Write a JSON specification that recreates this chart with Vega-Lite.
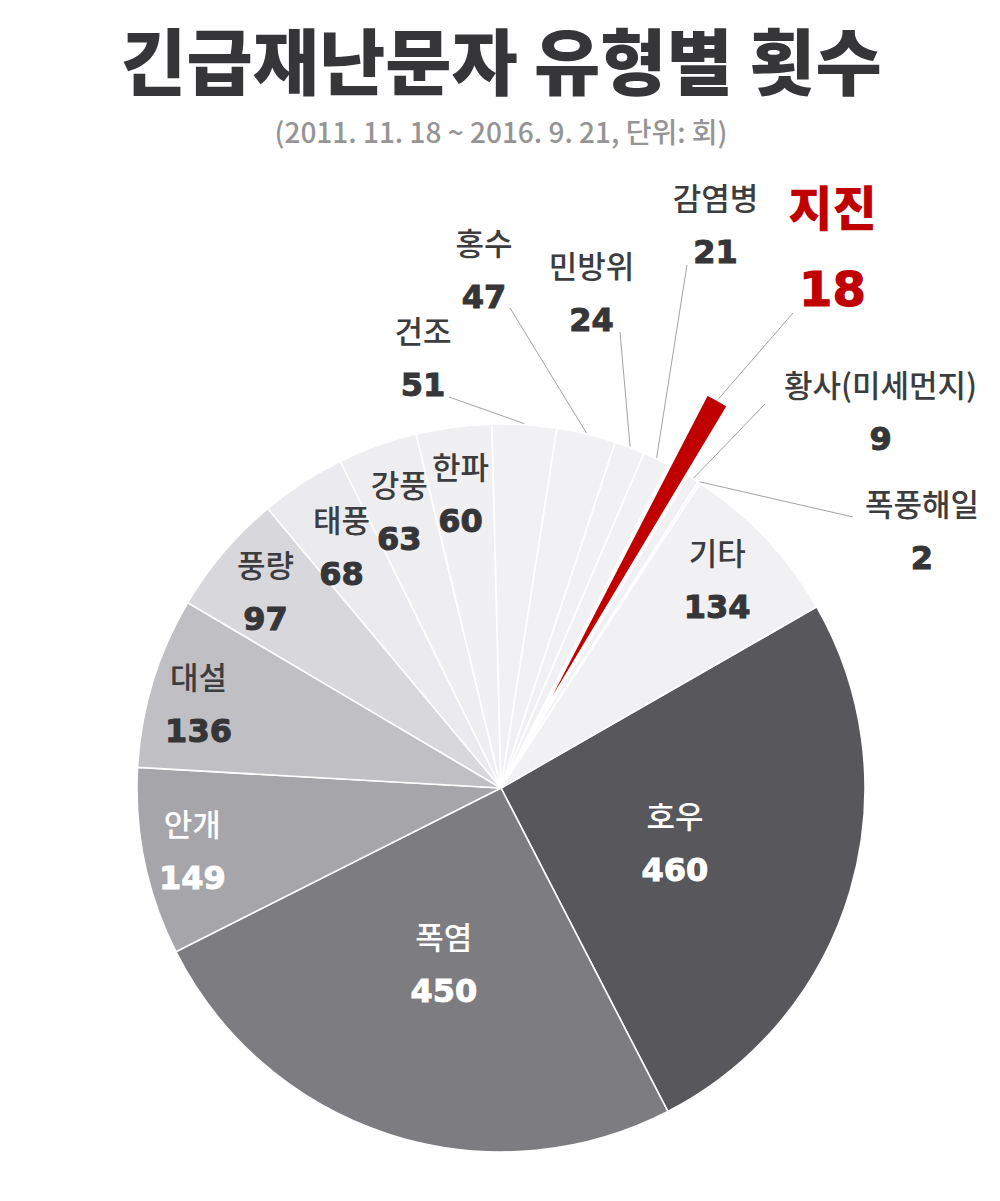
{
  "$schema": "https://vega.github.io/schema/vega-lite/v6.json",
  "width": 998,
  "height": 730,
  "autosize": {"type": "none"},
  "padding": {"left": 2, "top": 423, "right": 0, "bottom": 48},
  "background": "white",
  "config": {"view": {"stroke": null}},
  "title": {
    "text": "긴급재난문자 유형별 횟수",
    "subtitle": "(2011. 11. 18 ~ 2016. 9. 21, 단위: 회)",
    "anchor": "middle",
    "frame": "group",
    "font": "Noto Sans CJK KR",
    "fontSize": 72,
    "fontWeight": 900,
    "color": "#363538",
    "subtitleFont": "Noto Sans CJK KR",
    "subtitleFontSize": 28,
    "subtitleFontWeight": 500,
    "subtitleColor": "#959595",
    "subtitlePadding": 17,
    "offset": 35
  },
  "data": {
    "values": [
      {"type": "호우", "count": 460},
      {"type": "폭염", "count": 450},
      {"type": "안개", "count": 149},
      {"type": "대설", "count": 136},
      {"type": "풍량", "count": 97},
      {"type": "태풍", "count": 68},
      {"type": "강풍", "count": 63},
      {"type": "한파", "count": 60},
      {"type": "건조", "count": 51},
      {"type": "홍수", "count": 47},
      {"type": "민방위", "count": 24},
      {"type": "감염병", "count": 21},
      {"type": "지진", "count": 18},
      {"type": "황사(미세먼지)", "count": 9},
      {"type": "폭풍해일", "count": 2},
      {"type": "기타", "count": 134}
    ]
  },
  "transform": [
    {"window": [{"op": "row_number", "as": "ord"}]},
    {"stack": "count", "groupby": [], "sort": [{"field": "ord", "order": "ascending"}], "as": ["s0", "s1"]},
    {"joinaggregate": [{"op": "sum", "field": "count", "as": "total"}]},
    {"calculate": "1.0498 + PI * (datum.s0 + datum.s1) / datum.total", "as": "a"},
    {"calculate": "[185,185,300,300,300,300,300,300,364,364,364,364,364,364,364,300][datum.ord - 1]", "as": "R"},
    {"calculate": "datum.R * sin(datum.a) + [-3.5,0,-15,-15.5,-7,4,0,-1.5,-101.6,-102.4,-38.2,59.3,154.1,187.3,222.8,-2][datum.ord - 1]", "as": "lx"},
    {"calculate": "datum.R * cos(datum.a) - [4.7,2,4,5.4,0,13,8,5.4,-64.3,-161.7,-152.5,-231.3,-218.1,-64.4,50.3,0][datum.ord - 1]", "as": "ly"},
    {"calculate": "80 * sin(datum.a)", "as": "bx"},
    {"calculate": "80 * cos(datum.a)", "as": "by"}
  ],
  "layer": [
    {
      "transform": [{"filter": "datum.type !== '지진'"}],
      "mark": {"type": "arc", "radius": 364, "stroke": "white", "strokeWidth": 1.6},
      "encoding": {
        "theta": {"field": "s1", "type": "quantitative", "stack": null, "scale": {"range": [1.0498, 7.333], "nice": false, "zero": true}},
        "theta2": {"field": "s0"},
        "color": {
          "field": "type",
          "type": "nominal",
          "scale": {
            "domain": ["호우", "폭염", "안개", "대설", "풍량", "태풍", "강풍", "한파", "건조", "홍수", "민방위", "감염병", "지진", "황사(미세먼지)", "폭풍해일", "기타"],
            "range": ["#58575b", "#7d7c80", "#a6a5a9", "#c0bfc3", "#d8d7db", "#ebeaee", "#eeedf0", "#f0eff2", "#f1f0f3", "#f1f0f3", "#f1f0f3", "#f1f0f3", "#c00000", "#f1f0f3", "#f1f0f3", "#f1f0f3"]
          },
          "legend": null
        }
      }
    },
    {
      "transform": [
        {"filter": "datum.ord >= 9 && datum.ord <= 15"},
        {"calculate": "(datum.type === '지진' ? 444 : 365) * sin(datum.a)", "as": "sx"},
        {"calculate": "(datum.type === '지진' ? 444 : 365) * cos(datum.a)", "as": "sy"},
        {"calculate": "364 * sin(datum.a) + [-75.6,-76.4,-9.7,30.8,114.6,71.8,153.8][datum.ord - 9]", "as": "tx"},
        {"calculate": "364 * cos(datum.a) - [-27.8,-126.2,-115.5,-193.8,-157.1,-74.9,34.3][datum.ord - 9]", "as": "ty"}
      ],
      "mark": {"type": "rule", "color": "#a3a3a3", "strokeWidth": 1},
      "encoding": {
        "x": {"field": "sx", "type": "quantitative", "scale": {"domain": [-499, 499], "nice": false, "zero": false}, "axis": null},
        "y": {"field": "sy", "type": "quantitative", "scale": {"domain": [-365, 365], "nice": false, "zero": false}, "axis": null},
        "x2": {"field": "tx"},
        "y2": {"field": "ty"}
      }
    },
    {
      "transform": [{"filter": "datum.type === '지진'"}],
      "mark": {"type": "arc", "radius": 364, "stroke": "white", "strokeWidth": 1.6, "color": "#c00000"},
      "encoding": {
        "theta": {"field": "s1", "type": "quantitative", "stack": null},
        "theta2": {"field": "s0"},
        "x": {"field": "bx", "type": "quantitative", "axis": null},
        "y": {"field": "by", "type": "quantitative", "axis": null}
      }
    },
    {
      "transform": [{"filter": "datum.type !== '지진'"}],
      "mark": {"type": "text", "font": "Noto Sans CJK KR", "fontSize": 31, "fontWeight": 500, "align": "center", "baseline": "middle", "dy": -26},
      "encoding": {
        "x": {"field": "lx", "type": "quantitative", "axis": null},
        "y": {"field": "ly", "type": "quantitative", "axis": null},
        "text": {"field": "type", "type": "nominal"},
        "color": {"condition": {"test": "indexof(['호우','폭염','안개'], datum.type) >= 0", "value": "#ffffff"}, "value": "#3d3d3f"}
      }
    },
    {
      "transform": [{"filter": "datum.type !== '지진'"}],
      "mark": {"type": "text", "font": "DejaVu Sans", "fontWeight": "bold", "fontSize": 32, "align": "center", "baseline": "middle", "dy": 26, "strokeWidth": 1},
      "encoding": {
        "x": {"field": "lx", "type": "quantitative", "axis": null},
        "y": {"field": "ly", "type": "quantitative", "axis": null},
        "text": {"field": "count", "type": "quantitative", "format": "d"},
        "color": {"condition": {"test": "indexof(['호우','폭염','안개'], datum.type) >= 0", "value": "#ffffff"}, "value": "#363538"},
        "stroke": {"condition": {"test": "indexof(['호우','폭염','안개'], datum.type) >= 0", "value": "#ffffff"}, "value": "#363538"}
      }
    },
    {
      "transform": [{"filter": "datum.type === '지진'"}],
      "mark": {"type": "text", "font": "Noto Sans CJK KR", "fontWeight": 900, "fontSize": 48, "align": "center", "baseline": "middle", "dy": -40, "color": "#c00000"},
      "encoding": {
        "x": {"field": "lx", "type": "quantitative", "axis": null},
        "y": {"field": "ly", "type": "quantitative", "axis": null},
        "text": {"field": "type", "type": "nominal"}
      }
    },
    {
      "transform": [{"filter": "datum.type === '지진'"}],
      "mark": {"type": "text", "font": "DejaVu Sans", "fontWeight": "bold", "fontSize": 48, "align": "center", "baseline": "middle", "dy": 40, "color": "#c00000", "stroke": "#c00000", "strokeWidth": 1.2},
      "encoding": {
        "x": {"field": "lx", "type": "quantitative", "axis": null},
        "y": {"field": "ly", "type": "quantitative", "axis": null},
        "text": {"field": "count", "type": "quantitative", "format": "d"}
      }
    }
  ]
}
